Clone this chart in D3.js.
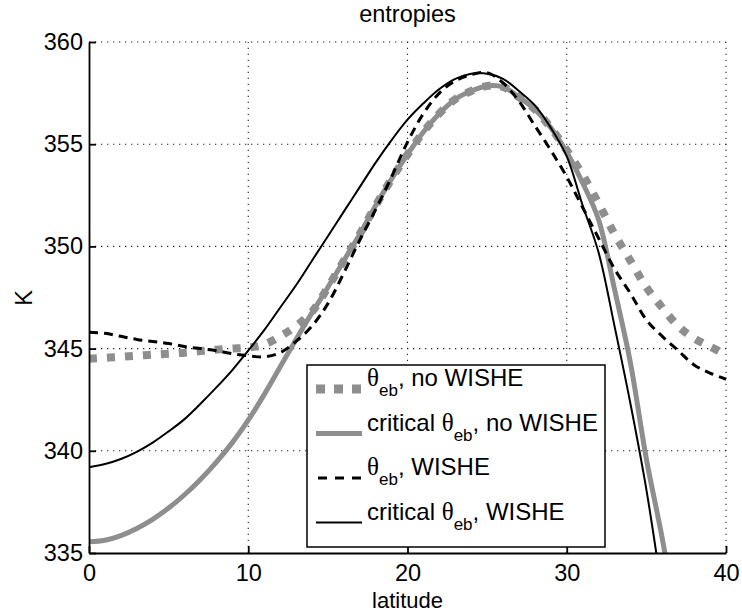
<!DOCTYPE html>
<html>
<head>
<meta charset="utf-8">
<script src="https://cdn.jsdelivr.net/npm/d3@7"></script>
<style>
  html, body { margin: 0; padding: 0; background: #fff; }
  svg { display: block; font-family: "Liberation Sans", Arial, Helvetica, sans-serif; }
</style>
</head>
<body>
<svg id="chart" width="742" height="613"></svg>
<script>
// latitude grid (degrees)
const latitude = d3.range(0, 41, 1);

// theta_eb without WISHE
const thetaNoWishe = [
  344.5, 344.55, 344.6, 344.65, 344.7, 344.75, 344.8, 344.88, 344.95, 345.0,
  345.05, 345.2, 345.6, 346.1, 346.8, 348.0, 349.3, 350.6, 352.0, 353.3,
  354.5, 355.6, 356.5, 357.2, 357.6, 357.85, 357.8, 357.3, 356.7, 355.8,
  354.7, 353.5, 352.1, 350.6, 349.3, 348.0, 347.0, 346.1, 345.5, 345.1, 344.7
];

// critical theta_eb without WISHE (leaves the axes near 36 N)
const criticalNoWishe = [
  335.55, 335.62, 335.85, 336.2, 336.65, 337.2, 337.85, 338.6, 339.45, 340.4,
  341.5, 342.75, 344.1, 345.45, 346.75, 348.0, 349.3, 350.6, 352.0, 353.3,
  354.5, 355.6, 356.5, 357.2, 357.6, 357.85, 357.8, 357.3, 356.7, 355.8,
  354.6, 353.1, 351.3, 347.9, 344.3, 339.6, 335.7, 331.2, null, null, null
];

// theta_eb with WISHE
const thetaWishe = [
  345.8, 345.75, 345.6, 345.45, 345.35, 345.25, 345.1, 345.0, 344.9, 344.75,
  344.65, 344.6, 344.8, 345.35, 346.1, 347.2, 348.7, 350.3, 351.8, 353.4,
  355.1, 356.5, 357.5, 358.1, 358.4, 358.5, 358.0, 357.1, 355.9, 354.7,
  353.4, 351.9, 350.4, 348.9, 347.7, 346.4, 345.6, 344.9, 344.2, 343.8, 343.5
];

// critical theta_eb with WISHE (leaves the axes near 35.6 N)
const criticalWishe = [
  339.2, 339.35, 339.6, 339.95, 340.4, 340.95, 341.55, 342.3, 343.1, 343.95,
  344.9, 345.9, 347.0, 348.1, 349.3, 350.5, 351.7, 352.9, 354.1, 355.2,
  356.2, 357.0, 357.7, 358.2, 358.45, 358.45, 358.2, 357.6, 356.9, 355.8,
  354.4, 352.0, 349.7, 346.1, 342.3, 338.1, 333.0, null, null, null, null
];

const xTicks = [0, 10, 20, 30, 40];
const yTicks = [335, 340, 345, 350, 355, 360];

const svg = d3.select("#chart");
const plotLeft = 89, plotRight = 726, plotTop = 42, plotBottom = 553;

const x = d3.scaleLinear().domain([0, 40]).range([plotLeft, plotRight]);
const y = d3.scaleLinear().domain([335, 360]).range([plotBottom, plotTop]);

// dotted grid
const grid = svg.append("g").attr("stroke", "#222").attr("stroke-width", 1.1)
  .attr("stroke-dasharray", "1.3,4.7").attr("fill", "none");
xTicks.filter(d => d > 0).forEach(d => {
  grid.append("line").attr("x1", x(d)).attr("x2", x(d)).attr("y1", plotBottom).attr("y2", plotTop);
});
yTicks.filter(d => d > 335).forEach(d => {
  grid.append("line").attr("x1", plotLeft).attr("x2", plotRight).attr("y1", y(d)).attr("y2", y(d));
});

// clip for curves
svg.append("clipPath").attr("id", "plotclip").append("rect")
  .attr("x", plotLeft).attr("y", plotTop - 10)
  .attr("width", plotRight - plotLeft + 2).attr("height", plotBottom - plotTop + 10);

const plot = svg.append("g").attr("clip-path", "url(#plotclip)");

function drawSeries(values, style) {
  const pts = latitude.map((d, i) => [d, values[i]]).filter(p => p[1] !== null);
  const line = d3.line().x(p => x(p[0])).y(p => y(p[1])).curve(d3.curveCatmullRom.alpha(0.5));
  const p = plot.append("path").attr("d", line(pts)).attr("fill", "none");
  Object.entries(style).forEach(([k, v]) => p.attr(k, v));
}

const styles = [
  { stroke: "#8e8e8e", "stroke-width": 8, "stroke-dasharray": "8,10", "stroke-linecap": "butt" },
  { stroke: "#8e8e8e", "stroke-width": 5 },
  { stroke: "#000", "stroke-width": 3, "stroke-dasharray": "9,6" },
  { stroke: "#000", "stroke-width": 2 }
];

drawSeries(criticalNoWishe, styles[1]);
drawSeries(thetaNoWishe, styles[0]);
drawSeries(thetaWishe, styles[2]);
drawSeries(criticalWishe, styles[3]);

// axes (left and bottom, ticks pointing inward)
const xAxis = d3.axisBottom(x).tickValues(xTicks).tickSizeInner(-7).tickSizeOuter(0).tickPadding(11);
const yAxis = d3.axisLeft(y).tickValues(yTicks).tickSizeInner(-7).tickSizeOuter(0).tickPadding(6);

const gx = svg.append("g").attr("transform", `translate(0,${plotBottom})`).call(xAxis);
const gy = svg.append("g").attr("transform", `translate(${plotLeft},0)`).call(yAxis);
[gx, gy].forEach(g => {
  g.select(".domain").attr("stroke", "#000").attr("stroke-width", 1.8);
  g.selectAll(".tick line").attr("stroke", "#000").attr("stroke-width", 1.8);
  g.selectAll(".tick text").attr("fill", "#000").attr("font-size", 23.5)
    .attr("font-family", "'Liberation Sans', Arial, sans-serif");
});
gx.selectAll(".tick text").attr("dy", "0.71em");

// title and axis labels
svg.append("text").attr("x", x(20)).attr("y", 22).attr("text-anchor", "middle")
  .attr("font-size", 23.5).text("entropies");
svg.append("text").attr("x", x(20)).attr("y", 607.5).attr("text-anchor", "middle")
  .attr("font-size", 22).text("latitude");
svg.append("text").attr("transform", "translate(32,298) rotate(-90)").attr("text-anchor", "middle")
  .attr("font-size", 23.5).text("K");

// legend
const legendLabels = [
  { pre: "", post: ", no WISHE" },
  { pre: "critical ", post: ", no WISHE" },
  { pre: "", post: ", WISHE" },
  { pre: "critical ", post: ", WISHE" }
];
const lg = svg.append("g");
lg.append("rect").attr("x", 307).attr("y", 365).attr("width", 298).attr("height", 182)
  .attr("fill", "#fff").attr("stroke", "#000").attr("stroke-width", 1.5);

legendLabels.forEach((lab, i) => {
  const base = 386 + i * 44.5;
  const ly = base + 3;
  const s = styles[i];
  const ln = lg.append("line").attr("x1", 316).attr("x2", 362).attr("y1", ly).attr("y2", ly);
  Object.entries(s).forEach(([k, v]) => ln.attr(k, v));
  if (i === 0) ln.attr("stroke-dasharray", "9,9").attr("stroke-width", 9);
  if (i === 2) ln.attr("stroke-dasharray", "9,8").attr("x1", 318);
  const t = lg.append("text").attr("x", 367).attr("y", base).attr("font-size", 24);
  if (lab.pre) t.append("tspan").text(lab.pre);
  t.append("tspan").attr("font-family", "'Liberation Serif', 'Times New Roman', serif").attr("font-size", 25).text("θ");
  t.append("tspan").attr("font-size", 17).attr("dy", 10).text("eb");
  t.append("tspan").attr("dy", -10).text(lab.post);
});
</script>
</body>
</html>
